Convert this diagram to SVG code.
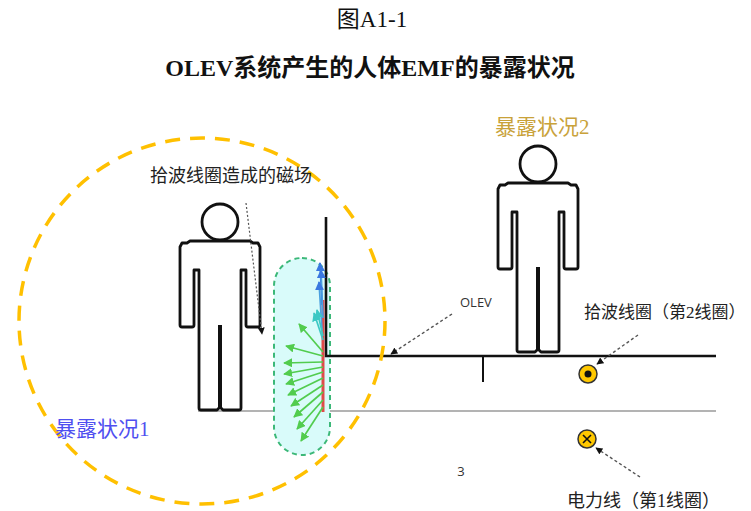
<svg xmlns="http://www.w3.org/2000/svg" width="751" height="511" viewBox="0 0 751 511">
  <style>
    .cap { font-family: "Liberation Serif", "Noto Sans CJK SC", serif; fill: #111; }
    .lbl { font-family: "Noto Sans CJK SC", sans-serif; fill: #222; }
    .lbls { font-family: "Liberation Serif", "Noto Sans CJK SC", serif; fill: #222; }
    .person { fill: #fff; stroke: #111; stroke-width: 2.8; stroke-linejoin: round; }
    .lead { fill: none; stroke: #555; stroke-width: 1.4; stroke-dasharray: 3 2.5; }
    .gArrow { stroke: #52cc4e; stroke-width: 1.7; fill: none; marker-end: url(#hGreen); }
    .cArrow { stroke: #3cc8c4; stroke-width: 1.7; fill: none; marker-end: url(#hCyan); }
    .bArrow { stroke: #3a78e0; stroke-width: 1.7; fill: none; marker-end: url(#hBlue); }
  </style>
  <defs>
    <marker id="hLead" viewBox="0 0 10 10" refX="9" refY="5" markerWidth="7" markerHeight="7" markerUnits="userSpaceOnUse" orient="auto">
      <path d="M0,0 L10,5 L0,10 Z" fill="#111"/>
    </marker>
    <marker id="hGreen" viewBox="0 0 10 10" refX="9" refY="5" markerWidth="9" markerHeight="9" markerUnits="userSpaceOnUse" orient="auto">
      <path d="M0,0 L10,5 L0,10 Z" fill="#52cc4e"/>
    </marker>
    <marker id="hCyan" viewBox="0 0 10 10" refX="9" refY="5" markerWidth="9" markerHeight="9" markerUnits="userSpaceOnUse" orient="auto">
      <path d="M0,0 L10,5 L0,10 Z" fill="#3cc8c4"/>
    </marker>
    <marker id="hBlue" viewBox="0 0 10 10" refX="9" refY="5" markerWidth="9" markerHeight="9" markerUnits="userSpaceOnUse" orient="auto">
      <path d="M0,0 L10,5 L0,10 Z" fill="#3a78e0"/>
    </marker>
    <!-- pictogram figure, origin at head centre -->
    <g id="figure">
      <circle cx="0" cy="0" r="18" class="person"/>
      <path class="person" d="M-30,19 L30,19 L33,21 L38,21 L40,25 L40,103 Q40,105 38,105 L28,105 Q26,105 26,103 L26,48 L21,48 L21,186 Q21,188 19,188 L3,188 L0,185 L-3,188 L-19,188 Q-21,188 -21,186 L-21,48 L-26,48 L-26,103 Q-26,105 -28,105 L-38,105 Q-40,105 -40,103 L-40,25 L-38,21 L-33,21 Z"/>
      <rect x="-2" y="103" width="4" height="84" fill="#111"/>
    </g>
  </defs>

  <!-- captions -->
  <text class="cap" x="372" y="27" font-size="23" text-anchor="middle">图A1-1</text>
  <text class="cap" x="370" y="76" font-size="24" font-weight="bold" text-anchor="middle">OLEV系统产生的人体EMF的暴露状况</text>

  <!-- ground line -->
  <g id="ground">
    <line x1="198" y1="411" x2="716" y2="411" stroke="#9a9a9a" stroke-width="1.5"/>
  </g>

  <!-- field region beside the vehicle -->
  <g id="field-zone">
    <rect x="274" y="258" width="56" height="197" rx="28" ry="28" fill="#d9fbfa" stroke="#3cb878" stroke-width="2" stroke-dasharray="5 4"/>
  </g>

  <!-- vehicle outline and pickup edge -->
  <g id="olev">
    <path d="M326,217 L326,356 L716,356" fill="none" stroke="#111" stroke-width="2.6"/>
    <line x1="483" y1="356" x2="483" y2="382" stroke="#111" stroke-width="2"/>
    <line x1="323" y1="300" x2="323" y2="412" stroke="#e04a4a" stroke-width="3"/>
  </g>

  <!-- field vectors -->
  <g id="field-vectors">
    <line class="bArrow" x1="322" y1="305" x2="320" y2="263"/>
    <line class="bArrow" x1="323" y1="318" x2="321" y2="270" style="stroke:#4aa0e0"/>
    <line class="bArrow" x1="322" y1="330" x2="319" y2="282" style="stroke:#4aa0e0"/>
    <line class="cArrow" x1="323" y1="340" x2="314" y2="313"/>
    <line class="cArrow" x1="323" y1="336" x2="317" y2="310"/>
    <line class="gArrow" x1="323" y1="352" x2="299" y2="324"/>
    <line class="gArrow" x1="323" y1="356" x2="286" y2="346"/>
    <line class="gArrow" x1="323" y1="362" x2="284" y2="363"/>
    <line class="gArrow" x1="323" y1="367" x2="284" y2="374"/>
    <line class="gArrow" x1="323" y1="372" x2="286" y2="384"/>
    <line class="gArrow" x1="323" y1="378" x2="288" y2="395"/>
    <line class="gArrow" x1="323" y1="385" x2="291" y2="406"/>
    <line class="gArrow" x1="323" y1="392" x2="294" y2="417"/>
    <line class="gArrow" x1="323" y1="400" x2="297" y2="429"/>
    <line class="gArrow" x1="323" y1="407" x2="301" y2="441"/>
  </g>

  <!-- people -->
  <g id="person-1">
    <use href="#figure" x="220" y="222"/>
  </g>
  <g id="person-2">
    <use href="#figure" x="538" y="164"/>
  </g>

  <!-- exposure zone 1 -->
  <g id="zone-1">
    <circle cx="202" cy="321" r="183" fill="none" stroke="#ffc000" stroke-width="3.5" stroke-dasharray="15 10"/>
  </g>

  <!-- coils -->
  <g id="coil-2">
    <circle cx="588" cy="374" r="9" fill="#ffc800" stroke="#333" stroke-width="1.5"/>
    <circle cx="588" cy="374" r="3.5" fill="#111"/>
  </g>
  <g id="coil-1">
    <circle cx="587" cy="439" r="9" fill="#ffc800" stroke="#333" stroke-width="1.5"/>
    <path d="M583,435 L591,443 M591,435 L583,443" stroke="#111" stroke-width="1.6"/>
  </g>

  <!-- leader lines -->
  <g id="connectors">
    <line class="lead" x1="246" y1="203" x2="262" y2="334" marker-end="url(#hLead)" style="stroke-dasharray:2 2;stroke-width:1.2"/>
    <line class="lead" x1="452" y1="314" x2="391" y2="354" marker-end="url(#hLead)"/>
    <line class="lead" x1="638" y1="335" x2="597" y2="364" marker-end="url(#hLead)"/>
    <line class="lead" x1="640" y1="477" x2="596" y2="448" marker-end="url(#hLead)"/>
  </g>

  <!-- labels -->
  <text class="lbl" x="150" y="182" font-size="18">拾波线圈造成的磁场</text>
  <text class="lbls" x="55" y="436" font-size="21" style="fill:#4f4ff0">暴露状况1</text>
  <text class="lbls" x="495" y="134" font-size="21" style="fill:#c9a23a">暴露状况2</text>
  <text x="460" y="307" font-size="13" font-family="Open Sans, sans-serif" fill="#333">OLEV</text>
  <text class="lbls" x="584" y="318" font-size="17">拾波线圈（第2线圈）</text>
  <text class="lbls" x="567" y="507" font-size="18">电力线（第1线圈）</text>
  <text x="461" y="476" font-size="13" font-family="Open Sans, sans-serif" fill="#333" text-anchor="middle">3</text>
</svg>
